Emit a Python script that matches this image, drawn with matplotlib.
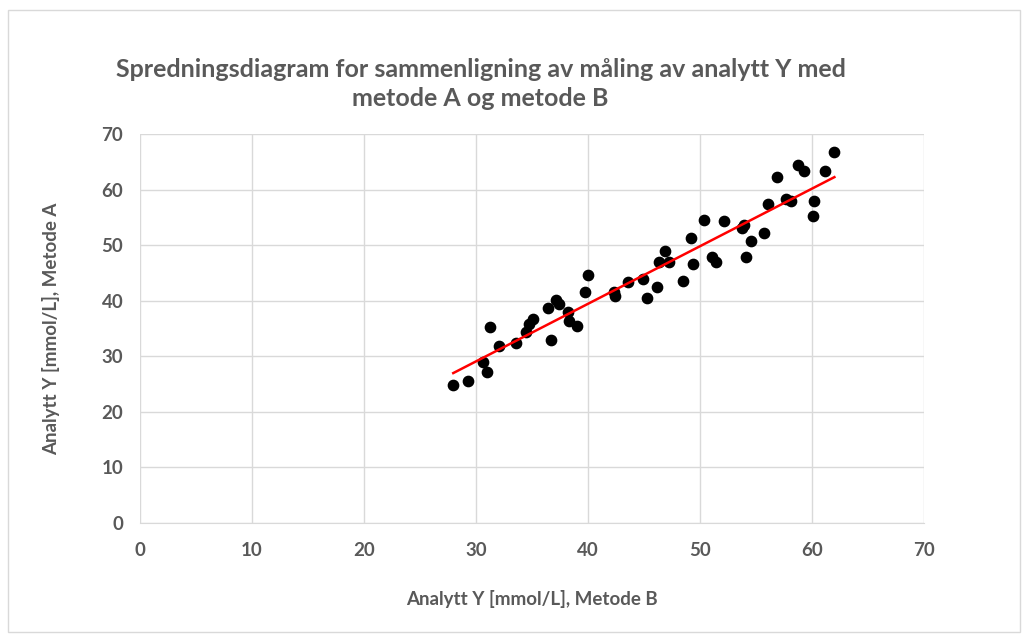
import matplotlib.pyplot as plt
import numpy as np
from matplotlib.patches import Rectangle

# Metode B (x) and Metode A (y)
metode_b = [27.97, 29.26, 30.6, 30.95, 31.25, 32.05, 33.57, 34.5, 34.73, 35.09,
            36.46, 36.7, 37.14, 37.44, 38.2, 38.3, 39.0, 39.7, 40.0, 42.3,
            42.4, 43.6, 44.9, 45.3, 46.2, 46.3, 46.9, 47.2, 48.5, 49.2,
            49.4, 50.4, 51.1, 51.4, 52.1, 53.75, 53.9, 54.1, 54.55, 55.7,
            56.1, 56.9, 57.7, 58.1, 58.75, 59.3, 60.1, 60.2, 61.2, 62.0]
metode_a = [24.8, 25.5, 29.0, 27.2, 35.2, 31.8, 32.4, 34.3, 35.9, 36.7,
            38.7, 32.9, 40.2, 39.4, 38.0, 36.4, 35.4, 41.5, 44.7, 41.5,
            40.9, 43.3, 43.9, 40.4, 42.4, 46.9, 49.0, 46.9, 43.6, 51.3,
            46.6, 54.6, 47.9, 46.9, 54.3, 53.0, 53.7, 47.9, 50.8, 52.1,
            57.4, 62.3, 58.3, 57.9, 64.4, 63.3, 55.3, 58.0, 63.4, 66.7]
ticks = [0, 10, 20, 30, 40, 50, 60, 70]

title = "Spredningsdiagram for sammenligning av måling av analytt Y med\nmetode A og metode B"
xlabel = "Analytt Y [mmol/L], Metode B"
ylabel = "Analytt Y [mmol/L], Metode A"

grey = '#595959'
plt.rcParams['font.family'] = ['Lato', 'DejaVu Sans']

fig = plt.figure(figsize=(10.27, 6.37), dpi=100)
ax = fig.add_axes([0.1363, 0.179, 0.7634, 0.6106])

# outer chart border
fig.patches.append(Rectangle((0.008, 0.008), 0.985, 0.977, transform=fig.transFigure,
                             fill=False, edgecolor='#d9d9d9', linewidth=1))

x = np.array(metode_b)
y = np.array(metode_a)
coeff = np.polyfit(x, y, 1)
fit = np.poly1d(coeff)
xs = np.array([x.min(), x.max()])

ax.scatter(x, y, s=55, color='black', zorder=3)
ax.plot(xs, fit(xs), color='#ff0000', linewidth=1.8, zorder=4)

ax.set_xlim(0, 70)
ax.set_ylim(0, 70)
ax.set_xticks(ticks)
ax.set_yticks(ticks)
ax.grid(True, color='#d9d9d9', linewidth=1)
ax.set_axisbelow(True)
for s in ['top', 'right', 'left']:
    ax.spines[s].set_visible(False)
ax.spines['bottom'].set_color('#d9d9d9')
ax.tick_params(length=0, labelsize=13.5, labelcolor=grey, pad=12)
ax.tick_params(axis='x', pad=14)
for lab in ax.get_xticklabels() + ax.get_yticklabels():
    lab.set_fontweight('bold')

ax.set_xlabel(xlabel, fontsize=13.5, color=grey, fontweight='bold', labelpad=22)
ax.set_ylabel(ylabel, fontsize=13.5, color=grey, fontweight='bold', labelpad=30)

fig.text(0.468, 0.868, title, ha='center', va='center', multialignment='center',
         fontsize=18, fontweight='bold', color=grey, linespacing=1.3)

fig.savefig('out.png', dpi=100)
